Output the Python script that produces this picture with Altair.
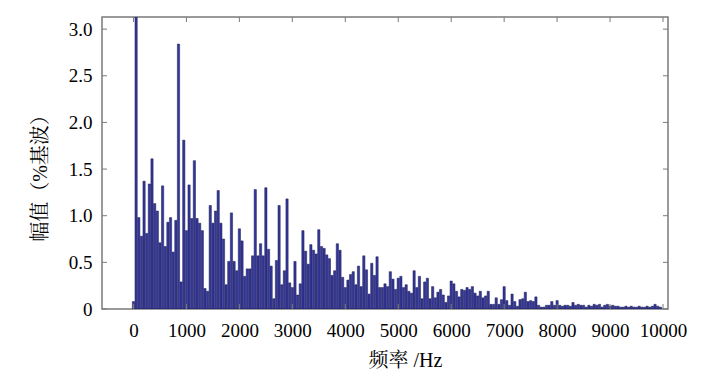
import altair as alt
import pandas as pd

# Harmonic frequencies (Hz) — 50 Hz spacing, orders 0..199
frequency_hz = list(range(0, 10000, 50))

# Amplitude (% of fundamental); fundamental is clipped at the top
amplitude_pct = [
    0.08, 100,
    0.98, 0.78, 1.37, 0.81, 1.34, 1.61, 1.13, 1.05, 0.71, 1.32, 0.67, 0.93, 0.98,
    0.61, 0.95, 2.84, 0.29, 1.81, 0.84, 1.33, 0.97, 1.59, 0.97, 0.92, 0.84,
    0.22, 0.19, 1.11, 0.92, 1.05, 1.27, 0.92, 0.75, 0.26, 0.51, 1.03, 0.51, 0.41,
    0.86, 0.73, 0.35, 0.43, 0.43, 0.57, 1.28, 0.57, 0.70, 0.57, 1.30, 0.64, 0.46,
    0.11, 0.52, 1.11,
    0.26, 0.41, 1.18, 0.28, 0.23, 0.51, 0.15, 0.27, 0.84, 0.62, 0.48, 0.69, 0.63,
    0.59, 0.85, 0.67, 0.65, 0.58, 0.54, 0.36, 0.41, 0.70, 0.63, 0.34, 0.23, 0.31,
    0.37, 0.40,
    0.26, 0.46, 0.24, 0.57, 0.42, 0.16, 0.49, 0.36, 0.56, 0.23, 0.23, 0.27, 0.24,
    0.40, 0.32, 0.21, 0.33, 0.35, 0.23, 0.26, 0.19, 0.17, 0.41, 0.23, 0.35, 0.11,
    0.29, 0.33,
    0.11, 0.24, 0.12, 0.18, 0.21, 0.15, 0.07, 0.14, 0.30, 0.27, 0.19, 0.13, 0.21,
    0.20, 0.23, 0.21, 0.24, 0.17, 0.14, 0.19, 0.12, 0.14, 0.19, 0.05, 0.05, 0.12,
    0.05, 0.10,
    0.24, 0.09, 0.04, 0.16, 0.08, 0.03, 0.10, 0.11, 0.18, 0.08, 0.09, 0.08, 0.13,
    0.04, 0.02, 0.02, 0.04, 0.04, 0.08, 0.04, 0.09, 0.04, 0.03, 0.04, 0.04, 0.03,
    0.07, 0.04, 0.05, 0.04,
    0.04, 0.02, 0.04, 0.03, 0.05, 0.04, 0.05, 0.02, 0.04, 0.05, 0.03, 0.04, 0.03,
    0.03, 0.02, 0.02, 0.03, 0.02, 0.03, 0.02, 0.02, 0.03, 0.02, 0.02, 0.03, 0.02,
    0.03, 0.05, 0.03, 0.02,
]

x_ticks = [0, 1000, 2000, 3000, 4000, 5000, 6000, 7000, 8000, 9000, 10000]
y_ticks = [0, 0.5, 1.0, 1.5, 2.0, 2.5, 3.0]

W, H = 566, 292
SERIF = "Liberation Serif, Noto Serif CJK SC, Noto Sans CJK SC"
FRAME = "#7a7a7a"

df = pd.DataFrame({"freq": frequency_hz, "amp": amplitude_pct})
xt = pd.DataFrame({"freq": x_ticks})
yt = pd.DataFrame({"amp": y_ticks})

xscale = alt.Scale(domain=[-500, 10000], nice=False, zero=False)
yscale = alt.Scale(domain=[0, 3.13], nice=False)

xaxis = alt.Axis(values=x_ticks, title="频率 /Hz", grid=False, ticks=False,
                 domain=False, labelPadding=12, format="d", labelFlush=False,
                 titleX=303, titleY=51, titleBaseline="middle", titleAlign="center")
yaxis = alt.Axis(values=y_ticks, title="幅值（%基波）", grid=False, ticks=False,
                 domain=False, labelPadding=10, labelFlush=False,
                 labelExpr="datum.value == 0 ? '0' : format(datum.value, '.1f')",
                 titleX=-62, titleY=156, titleBaseline="middle",
                 titleAlign="center", titleAngle=270)

X = alt.X("freq:Q", scale=xscale, axis=xaxis)
Y = alt.Y("amp:Q", scale=yscale, axis=yaxis)

bars = alt.Chart(df).mark_bar(
    size=2.25, clip=True, fill="#34379a", stroke="#1a1b55", strokeWidth=0.5
).encode(x=X, y=Y)

tick_len = 5
bottom_ticks = alt.Chart(xt).mark_rule(color=FRAME, strokeWidth=1).encode(
    x=X, y=alt.value(H), y2=alt.value(H - tick_len))
top_ticks = alt.Chart(xt).mark_rule(color=FRAME, strokeWidth=1).encode(
    x=X, y=alt.value(0), y2=alt.value(tick_len))
left_ticks = alt.Chart(yt).mark_rule(color=FRAME, strokeWidth=1).encode(
    y=Y, x=alt.value(0), x2=alt.value(tick_len))
right_ticks = alt.Chart(yt).mark_rule(color=FRAME, strokeWidth=1).encode(
    y=Y, x=alt.value(W), x2=alt.value(W - tick_len))

chart = alt.layer(bars, bottom_ticks, top_ticks, left_ticks, right_ticks).properties(
    width=W, height=H,
    background="white",
    autosize=alt.AutoSizeParams(type="none"),
    padding={"left": 94, "top": 9, "right": 30, "bottom": 64},
).configure_view(
    stroke=FRAME, strokeWidth=1.5
).configure_axis(
    labelFont="Liberation Serif", labelFontSize=19, labelColor="black",
    titleFont=SERIF, titleFontSize=20, titleFontWeight="normal", titleColor="black",
)

chart.save("out.html", embed_options={"renderer": "svg", "actions": False})
